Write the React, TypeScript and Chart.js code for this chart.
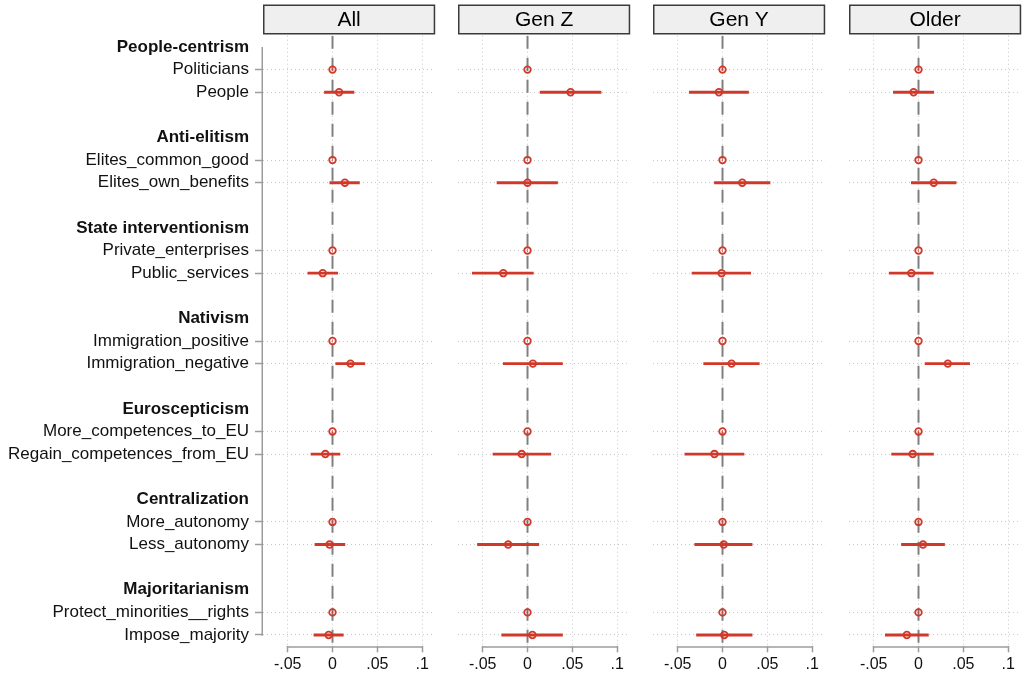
import React, { useEffect, useRef } from "react";
import { Chart, registerables } from "chart.js";

Chart.register(...registerables);

// ---------------- data ----------------
const groupLabels = [
  "People-centrism",
  "Anti-elitism",
  "State interventionism",
  "Nativism",
  "Euroscepticism",
  "Centralization",
  "Majoritarianism",
];

const itemLabels = [
  "Politicians",
  "People",
  "Elites_common_good",
  "Elites_own_benefits",
  "Private_enterprises",
  "Public_services",
  "Immigration_positive",
  "Immigration_negative",
  "More_competences_to_EU",
  "Regain_competences_from_EU",
  "More_autonomy",
  "Less_autonomy",
  "Protect_minorities__rights",
  "Impose_majority",
];

const panelTitles = ["All", "Gen Z", "Gen Y", "Older"];

const xTickValues = [-0.05, 0, 0.05, 0.1];
const xTickLabels = ["-.05", "0", ".05", ".1"];

const allEst = [0, 0.0073, 0, 0.0138, 0, -0.0109, 0, 0.02, 0, -0.008, 0, -0.0033, 0, -0.0043];
const allLo = [0, -0.009, 0, -0.003, 0, -0.0275, 0, 0.0036, 0, -0.024, 0, -0.0196, 0, -0.0207];
const allHi = [0, 0.024, 0, 0.03, 0, 0.0058, 0, 0.036, 0, 0.0083, 0, 0.0138, 0, 0.012];

const genZEst = [0, 0.048, 0, 0, 0, -0.027, 0, 0.006, 0, -0.0065, 0, -0.0216, 0, 0.0055];
const genZLo = [0, 0.014, 0, -0.034, 0, -0.0615, 0, -0.027, 0, -0.0385, 0, -0.0558, 0, -0.0288];
const genZHi = [0, 0.082, 0, 0.0335, 0, 0.0065, 0, 0.039, 0, 0.026, 0, 0.0126, 0, 0.039];

const genYEst = [0, -0.004, 0, 0.022, 0, -0.001, 0, 0.0101, 0, -0.009, 0, 0.0014, 0, 0.002];
const genYLo = [0, -0.037, 0, -0.009, 0, -0.034, 0, -0.021, 0, -0.042, 0, -0.031, 0, -0.029];
const genYHi = [0, 0.029, 0, 0.053, 0, 0.0314, 0, 0.041, 0, 0.024, 0, 0.033, 0, 0.033];

const olderEst = [0, -0.0055, 0, 0.017, 0, -0.008, 0, 0.0327, 0, -0.0065, 0, 0.005, 0, -0.013];
const olderLo = [0, -0.028, 0, -0.008, 0, -0.0327, 0, 0.0073, 0, -0.03, 0, -0.019, 0, -0.037];
const olderHi = [0, 0.017, 0, 0.042, 0, 0.0164, 0, 0.057, 0, 0.0167, 0, 0.029, 0, 0.011];

const panelEst = [allEst, genZEst, genYEst, olderEst];
const panelLo = [allLo, genZLo, genYLo, olderLo];
const panelHi = [allHi, genZHi, genYHi, olderHi];

// ---------------- layout / style ----------------
const FAMILY = "'Liberation Sans', Arial, Helvetica, sans-serif";
const RED = "#d0382a";
const W = 1025;
const H = 681;
const PANEL_LEFT = [263, 458, 653, 849];
const PANEL_W = 176;
const TOP = 35.7;
const XAXIS_H = 34.7;
const XMIN = -0.0775;
const XMAX = 0.1145;

// row structure: group header, two items, blank line
const rowLabels: string[] = [];
const rowKind: string[] = [];
const itemRow: number[] = [];
groupLabels.forEach((g, gi) => {
  rowLabels.push(g);
  rowKind.push("group");
  for (let k = 0; k < 2; k++) {
    itemRow.push(rowLabels.length);
    rowLabels.push(itemLabels[gi * 2 + k]);
    rowKind.push("item");
  }
  if (gi < groupLabels.length - 1) {
    rowLabels.push("");
    rowKind.push("blank");
  }
});
const LAST_ROW = rowLabels.length - 1;

function makeDecor(title: string, withYAxis: boolean) {
  return {
    id: "decor",
    afterDraw(chart: any) {
      const { ctx, chartArea, scales } = chart;
      const { left, right, bottom } = chartArea;
      const xs = scales.x;
      const ys = scales.y;
      ctx.save();
      // header strip
      ctx.fillStyle = "#efefef";
      ctx.fillRect(left, 5, right - left, 29);
      ctx.strokeStyle = "#3a3a3a";
      ctx.lineWidth = 1.5;
      ctx.strokeRect(left + 0.75, 5.25, right - left - 1.5, 28.5);
      ctx.fillStyle = "#000";
      ctx.font = `21px ${FAMILY}`;
      ctx.textAlign = "center";
      ctx.textBaseline = "middle";
      ctx.fillText(title, (left + right) / 2, 20);
      // x axis line (only across tick range)
      ctx.strokeStyle = "#9c9c9c";
      ctx.lineWidth = 1.5;
      ctx.beginPath();
      ctx.moveTo(xs.getPixelForValue(xTickValues[0]) - 0.75, bottom + 0.75);
      ctx.lineTo(xs.getPixelForValue(xTickValues[xTickValues.length - 1]) + 0.75, bottom + 0.75);
      ctx.stroke();
      if (withYAxis) {
        ctx.beginPath();
        ctx.moveTo(left - 0.75, ys.getPixelForValue(0));
        ctx.lineTo(left - 0.75, ys.getPixelForValue(LAST_ROW) + 0.75);
        ctx.stroke();
      }
      ctx.restore();
    },
  };
}

function buildConfig(i: number, padL: number, padR: number): any {
  const est = panelEst[i];
  const lo = panelLo[i];
  const hi = panelHi[i];
  const first = i === 0;
  return {
    type: "scatter",
    data: {
      datasets: [
        {
          type: "line",
          data: [
            { x: 0, y: -0.5 },
            { x: 0, y: LAST_ROW + 0.5 },
          ],
          borderColor: "#808080",
          borderWidth: 2,
          borderDash: [13, 9],
          pointRadius: 0,
          order: 3,
        },
        {
          type: "bar",
          indexAxis: "y",
          data: itemLabels.map((_, k) => ({ x: [lo[k], hi[k]], y: itemRow[k] })),
          backgroundColor: RED,
          borderWidth: 0,
          barThickness: 2.2,
          grouped: false,
          order: 2,
        },
        {
          type: "scatter",
          data: itemLabels.map((_, k) => ({ x: est[k], y: itemRow[k] })),
          pointRadius: 3.3,
          pointBorderWidth: 1.8,
          borderColor: RED,
          backgroundColor: "rgba(0,0,0,0)",
          order: 1,
        },
      ],
    },
    options: {
      animation: false,
      responsive: false,
      devicePixelRatio: 1,
      events: [],
      layout: { padding: { top: TOP, bottom: 0, left: padL, right: padR } },
      plugins: {
        legend: { display: false },
        tooltip: { enabled: false },
        title: { display: false },
      },
      scales: {
        x: {
          type: "linear",
          min: XMIN,
          max: XMAX,
          offset: false,
          afterBuildTicks: (s: any) => {
            s.ticks = xTickValues.map((v) => ({ value: v }));
          },
          afterFit: (s: any) => {
            s.height = XAXIS_H;
          },
          ticks: {
            callback: (_v: any, idx: number) => xTickLabels[idx],
            font: { family: FAMILY, size: 16 },
            color: "#111",
            padding: 3,
            maxRotation: 0,
            autoSkip: false,
          },
          grid: {
            offset: false,
            color: "#c8c8c8",
            lineWidth: 1,
            drawTicks: true,
            tickLength: 6,
            tickColor: "#9c9c9c",
            tickWidth: 1.5,
          },
          border: { display: false, dash: [1, 3] },
        },
        y: {
          type: "linear",
          reverse: true,
          offset: false,
          min: -0.5,
          max: LAST_ROW + 0.5,
          afterBuildTicks: (s: any) => {
            s.ticks = rowLabels.map((_, r) => ({ value: r }));
          },
          afterFit: (s: any) => {
            s.width = first ? PANEL_LEFT[0] : 0;
          },
          ticks: {
            display: first,
            autoSkip: false,
            callback: (v: any) => rowLabels[Math.round(v)],
            font: (c: any) => ({
              family: FAMILY,
              size: 17,
              weight: c.tick && rowKind[Math.round(c.tick.value)] === "group" ? "bold" : "normal",
            }),
            color: "#111",
            padding: 6,
          },
          grid: {
            offset: false,
            color: (c: any) =>
              c.tick && rowKind[Math.round(c.tick.value)] === "item" ? "#c8c8c8" : "rgba(0,0,0,0)",
            lineWidth: 1,
            drawTicks: first,
            tickLength: 8,
            tickColor: (c: any) =>
              c.tick && rowKind[Math.round(c.tick.value)] === "item" ? "#9c9c9c" : "rgba(0,0,0,0)",
            tickWidth: 1.5,
          },
          border: { display: false, dash: [1, 3] },
        },
      },
    },
    plugins: [makeDecor(panelTitles[i], first)],
  };
}

function canvasGeom(i: number) {
  if (i === 0) return { left: 0, width: PANEL_LEFT[0] + PANEL_W + 2, padL: 0, padR: 2 };
  return { left: PANEL_LEFT[i] - 10, width: PANEL_W + 12, padL: 10, padR: 2 };
}

export default function App() {
  const refs = useRef<(HTMLCanvasElement | null)[]>([]);

  useEffect(() => {
    document.body.style.margin = "0";
    const charts: Chart[] = [];
    panelTitles.forEach((_, i) => {
      const c = refs.current[i];
      if (!c) return;
      const g = canvasGeom(i);
      charts.push(new Chart(c, buildConfig(i, g.padL, g.padR)));
    });
    return () => charts.forEach((ch) => ch.destroy());
  }, []);

  return (
    <div
      style={{
        position: "relative",
        width: W,
        height: H,
        overflow: "hidden",
        background: "#ffffff",
      }}
    >
      {panelTitles.map((t, i) => {
        const g = canvasGeom(i);
        return (
          <canvas
            key={t}
            ref={(el) => {
              refs.current[i] = el;
            }}
            width={g.width}
            height={H}
            style={{ position: "absolute", left: g.left, top: 0, width: g.width, height: H }}
          />
        );
      })}
    </div>
  );
}
